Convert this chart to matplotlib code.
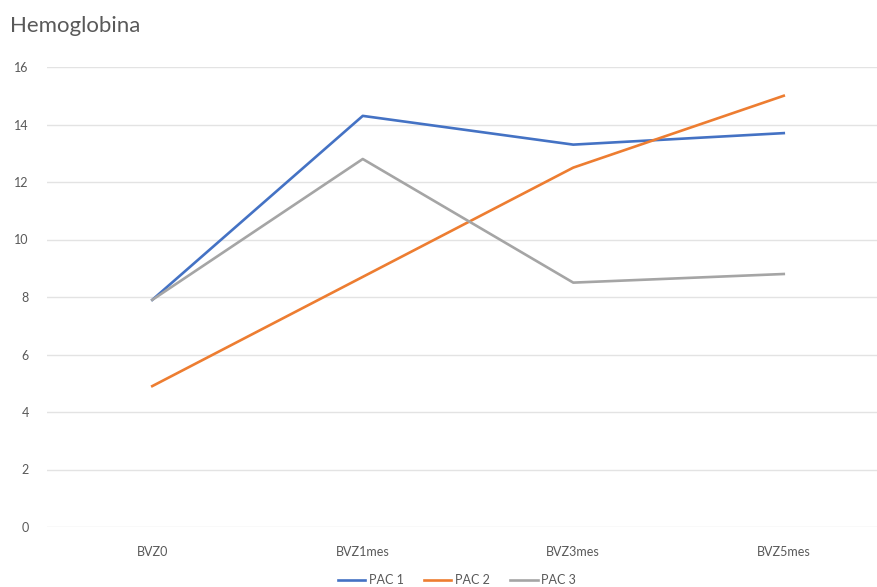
import matplotlib.pyplot as plt

plt.rcParams['font.family'] = ['Lato', 'DejaVu Sans']

categories = ['BVZ0', 'BVZ1mes', 'BVZ3mes', 'BVZ5mes']
pac1 = [7.9, 14.3, 13.3, 13.7]
pac2 = [4.9, 8.7, 12.5, 15.0]
pac3 = [7.9, 12.8, 8.5, 8.8]
yticks = [0, 2, 4, 6, 8, 10, 12, 14, 16]

fig = plt.figure(figsize=(8.78, 5.87), dpi=100)
ax = fig.add_axes([47 / 878, 1 - 527 / 587, 842 / 878, 460 / 587])

x = range(len(categories))
ax.plot(x, pac1, color='#4472C4', lw=1.9, label='PAC 1')
ax.plot(x, pac2, color='#ED7D31', lw=1.9, label='PAC 2')
ax.plot(x, pac3, color='#A5A5A5', lw=1.9, label='PAC 3')

ax.set_xlim(-0.5, 3.5)
ax.set_ylim(0, 16)
ax.set_yticks(yticks)
ax.set_xticks(list(x))
ax.set_xticklabels(categories)
ax.grid(axis='y', color='#E3E3E3', lw=1)
ax.set_axisbelow(True)
for s in ax.spines.values():
    s.set_visible(False)
ax.tick_params(length=0, labelsize=9, colors='#595959')
ax.tick_params(axis='y', pad=13)
ax.tick_params(axis='x', pad=14)

fig.text(10 / 878, 1 - 26 / 587, 'Hemoglobina', fontsize=16, color='#595959',
         va='center', ha='left')

fig.legend(loc='center', bbox_to_anchor=(457 / 878, 1 - 580 / 587), ncol=3,
           frameon=False, fontsize=9, handlelength=2.2, handletextpad=0.3,
           columnspacing=1.6, labelcolor='#595959')

fig.savefig('out.png', dpi=100)
